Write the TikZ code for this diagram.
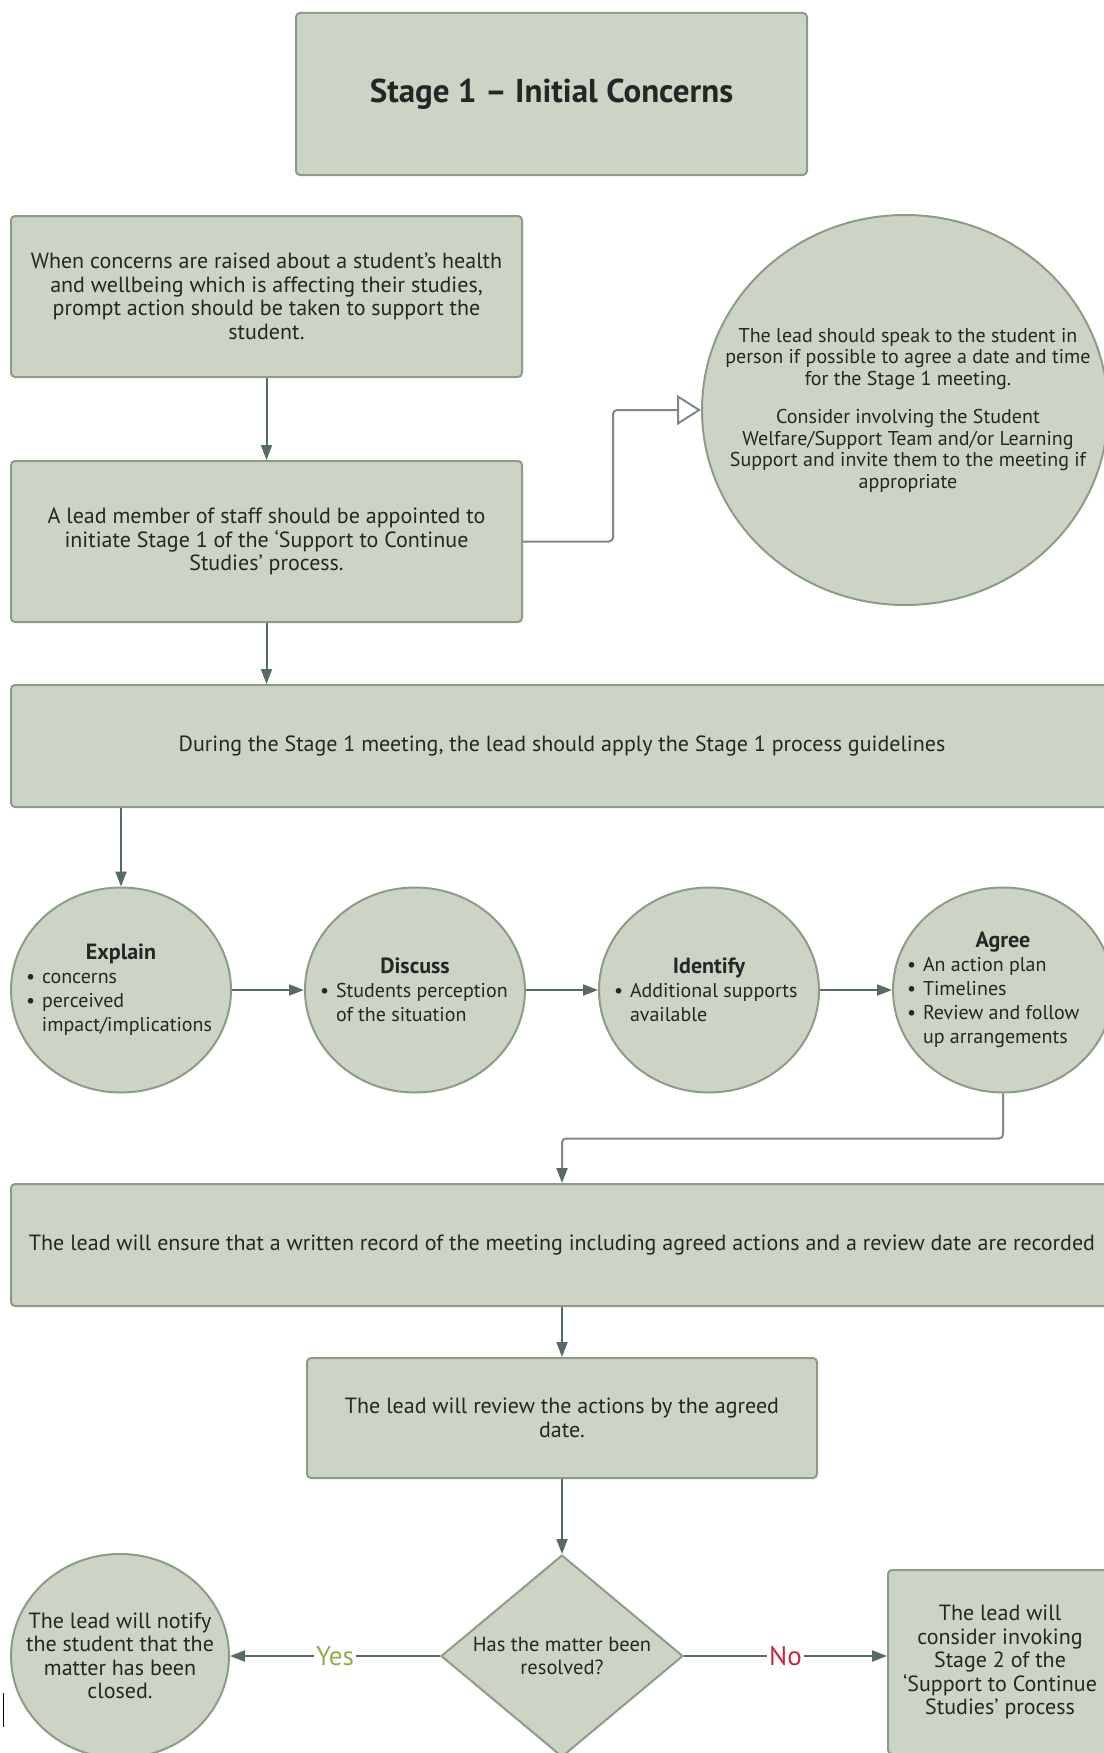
\documentclass[tikz,border=0pt]{standalone}
\usepackage{fontspec}
\setmainfont{PT Sans}
\usetikzlibrary{shapes.geometric,arrows.meta}
\definecolor{boxfill}{HTML}{CCD4C5}
\definecolor{boxline}{HTML}{8C9C87}
\definecolor{flowline}{HTML}{566B66}
\definecolor{greyline}{HTML}{7E8886}
\definecolor{yesgreen}{HTML}{8DB04E}
\definecolor{nored}{HTML}{C4283E}
\newcommand{\bulitem}[1]{\par\noindent\hangindent=0.8em\hangafter=1\makebox[0.8em][l]{\textbullet}#1}

\begin{document}
\begin{tikzpicture}[x=1pt,y=-1pt,>={Triangle[length=15pt,width=11pt]},
  box/.style={draw=boxline,fill=boxfill,line width=2pt,rounded corners=4pt,align=center,inner sep=0pt,text=black!85,font=\fontsize{22}{23.5}\selectfont},
  bubble/.style={draw=boxline,fill=boxfill,line width=2pt,ellipse,inner sep=0pt,minimum width=220pt,minimum height=205pt},
  bubtext/.style={inner sep=0pt,text=black!85,font=\fontsize{20}{24}\selectfont},
  flow/.style={draw=flowline,line width=2pt,->},
  greyflow/.style={draw=greyline,line width=2pt,rounded corners=4pt},
  answer/.style={fill=white,inner sep=2pt,font=\fontsize{27}{30}\selectfont}]
  \useasboundingbox (0,0) rectangle (1103,1753);

  \node[box,minimum width=511pt,minimum height=162pt,font=\fontsize{33}{38}\selectfont\bfseries] (title) at (551.5,94) {Stage 1 – Initial Concerns};

  \node[box,minimum width=511pt,minimum height=161pt] (concern) at (266.5,296.5) {When concerns are raised about a student’s health\\and wellbeing which is affecting their studies,\\prompt action should be taken to support the\\student.};
  \node[box,minimum width=511pt,minimum height=161pt] (lead) at (266.5,541.5) {A lead member of staff should be appointed to\\initiate Stage 1 of the ‘Support to Continue\\Studies’ process.};
  \node[bubble,minimum width=406pt,minimum height=390pt] (speak) at (905,410) {};
  \node[bubtext,align=center,font=\fontsize{20}{21.5}\selectfont] (speaktext) at ([xshift=3pt]speak.center) {The lead should speak to the student in\\person if possible to agree a date and time\\for the Stage 1 meeting.\\[17pt]Consider involving the Student\\Welfare/Support Team and/or Learning\\Support and invite them to the meeting if\\appropriate};

  \node[box,minimum width=1102pt,minimum height=122pt] (meeting) at (562,746) {During the Stage 1 meeting, the lead should apply the Stage 1 process guidelines};

  \node[bubble] (explain) at (121,990) {};
  \node[bubtext] (explaintext) at (explain) {\begin{minipage}{190pt}\centering\fontsize{22}{25}\selectfont\bfseries Explain\par\raggedright\fontsize{20}{24}\selectfont\mdseries\bulitem{concerns}\bulitem{perceived\newline impact/implications}\end{minipage}};
  \node[bubble] (discuss) at (415,990) {};
  \node[bubtext] (discusstext) at (discuss) {\begin{minipage}{190pt}\centering\fontsize{22}{25}\selectfont\bfseries Discuss\par\raggedright\fontsize{20}{24}\selectfont\mdseries\bulitem{Students perception\newline of the situation}\end{minipage}};
  \node[bubble] (identify) at (709,990) {};
  \node[bubtext] (identifytext) at (identify) {\begin{minipage}{190pt}\centering\fontsize{22}{25}\selectfont\bfseries Identify\par\raggedright\fontsize{20}{24}\selectfont\mdseries\bulitem{Additional supports\newline available}\end{minipage}};
  \node[bubble] (agree) at (1003,990) {};
  \node[bubtext] (agreetext) at ([xshift=-6pt]agree.center) {\begin{minipage}{180pt}\centering\fontsize{22}{25}\selectfont\bfseries\hspace*{12pt}Agree\par\raggedright\fontsize{20}{24}\selectfont\mdseries\bulitem{An action plan}\bulitem{Timelines}\bulitem{Review and follow\newline up arrangements}\end{minipage}};

  \node[box,minimum width=1102pt,minimum height=122pt] (record) at (562,1245) {The lead will ensure that a written record of the meeting including agreed actions and a review date are recorded};
  \node[box,minimum width=510pt,minimum height=120pt] (review) at (562,1418) {The lead will review the actions by the agreed\\date.};

  \node[diamond,draw=boxline,fill=boxfill,line width=2pt,inner sep=0pt,minimum width=242pt,minimum height=202pt] (decision) at (562,1656) {};
  \node[bubtext,align=center,font=\fontsize{20.5}{23.5}\selectfont] (decisiontext) at (decision) {Has the matter been\\resolved?};
  \node[bubble,minimum width=218pt,minimum height=204pt] (notify) at (120,1656) {};
  \node[bubtext,align=center,font=\fontsize{22}{23.5}\selectfont] (notifytext) at (notify) {The lead will notify\\the student that the\\matter has been\\closed.};
  \node[box,minimum width=224pt,minimum height=184pt] (stagetwo) at (1000,1662) {The lead will\\consider invoking\\Stage 2 of the\\‘Support to Continue\\Studies’ process};

  \draw[flow] (concern) -- (lead);
  \draw[greyflow,-{Triangle[open,length=24pt,width=30pt]}] (lead.east) -- ++(90,0) |- (speak.west);
  \draw[flow] (lead.south) -- (lead.south |- meeting.north);
  \draw[flow] (meeting.south -| explain.north) -- (explain.north);
  \draw[flow] (explain) -- (discuss);
  \draw[flow] (discuss) -- (identify);
  \draw[flow] (identify) -- (agree);
  \draw[greyflow,-{Triangle[length=15pt,width=11pt,color=flowline]}] (agree.south) -- ++(0,45) -| (record.north);
  \draw[flow] (record) -- (review);
  \draw[flow] (review) -- (decision);
  \draw[flow] (decision.west) -- node[answer,text=yesgreen] (yes) {Yes} (notify.east);
  \draw[flow] (decision.east) -- node[answer,text=nored] (no) {No} (decision.east -| stagetwo.west);

  \draw[black,line width=1pt] (3,1693) -- (3,1727);
\end{tikzpicture}
\end{document}
